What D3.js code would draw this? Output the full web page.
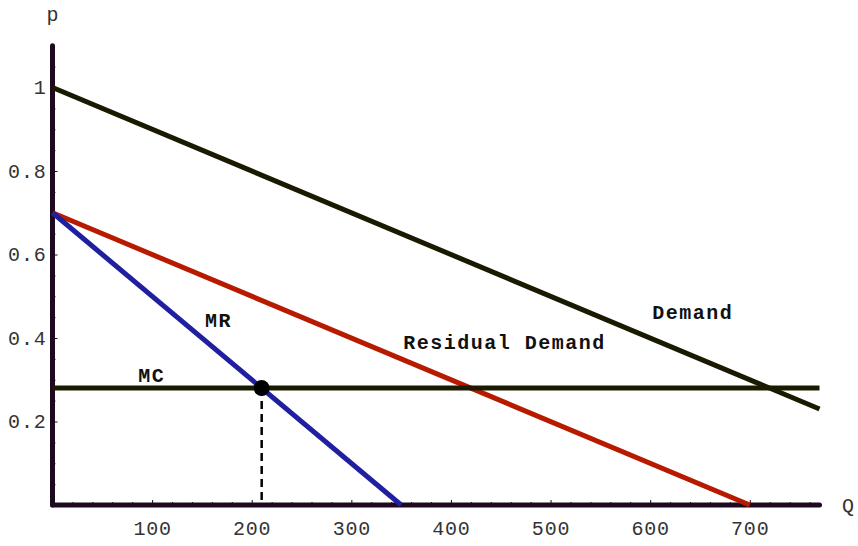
<!DOCTYPE html>
<html><head><meta charset="utf-8">
<script src="https://cdn.jsdelivr.net/npm/d3@7"></script>
<style>html,body{margin:0;padding:0;background:#fff;} svg{display:block;}</style>
</head><body>
<script>
// ---- data ----
const xTicks = [100, 200, 300, 400, 500, 600, 700];
const xTickLabels = ["100", "200", "300", "400", "500", "600", "700"];
const yTicks = [0.2, 0.4, 0.6, 0.8, 1];
const yTickLabels = ["0.2", "0.4", "0.6", "0.8", "1"];
const demandQ = [0, 770];
const demandP = [1.0, 0.23];
const residualQ = [0, 700];
const residualP = [0.7, 0.0];
const mrQ = [0, 350];
const mrP = [0.7, 0.0];
const mcQ = [0, 770];
const mcP = [0.28, 0.28];
const optimumQ = 210;
const optimumP = 0.28;
const labelNames = ["Demand", "Residual Demand", "MR", "MC"];
const labelQ = [602, 352, 153, 86];
const labelP = [0.445, 0.373, 0.427, 0.295];

// ---- layout ----
const W = 858, H = 546;
const svg = d3.select("body").append("svg").attr("width", W).attr("height", H);
const x = d3.scaleLinear().domain([0, 770]).range([52.5, 819.5]);
const y = d3.scaleLinear().domain([0, 1.1]).range([505, 45.75]);
const axisColor = "#1e0a1e";
const font = "'Liberation Mono', 'Courier New', monospace";
const tickFill = "#333";

// minor ticks
const xMinor = d3.range(20, 770, 20).filter(v => v % 100 !== 0);
const yMinor = d3.range(0.05, 1.1, 0.05).filter(v => Math.abs(v * 5 - Math.round(v * 5)) > 1e-6);

const gx = svg.append("g").attr("transform", `translate(0,${y(0)})`);
gx.call(d3.axisBottom(x).tickValues(xMinor).tickSize(-3).tickFormat(""));
gx.call(g => g.select(".domain").remove());
const gx2 = svg.append("g").attr("transform", `translate(0,${y(0)})`);
gx2.call(d3.axisBottom(x).tickValues(xTicks).tickSize(-5).tickPadding(16)
  .tickFormat((d, i) => xTickLabels[i]));
gx2.select(".domain").remove();
[gx, gx2].forEach(g => g.selectAll("line").attr("stroke", axisColor).attr("stroke-width", 1));
gx2.selectAll("text").attr("font-family", font).attr("font-size", 20).attr("fill", tickFill)
  .attr("letter-spacing", 0.8);

const gy = svg.append("g").attr("transform", `translate(${x(0)},0)`);
gy.call(d3.axisLeft(y).tickValues(yMinor).tickSize(-3).tickFormat(""));
gy.select(".domain").remove();
const gy2 = svg.append("g").attr("transform", `translate(${x(0)},0)`);
gy2.call(d3.axisLeft(y).tickValues(yTicks).tickSize(-5).tickPadding(6)
  .tickFormat((d, i) => yTickLabels[i]));
gy2.select(".domain").remove();
[gy, gy2].forEach(g => g.selectAll("line").attr("stroke", axisColor).attr("stroke-width", 1));
gy2.selectAll("text").attr("font-family", font).attr("font-size", 20).attr("fill", tickFill)
  .attr("letter-spacing", 0.8);

// axis lines
svg.append("line").attr("x1", x(0)).attr("x2", x(770)).attr("y1", y(0)).attr("y2", y(0))
  .attr("stroke", axisColor).attr("stroke-width", 5).attr("stroke-linecap", "round");
svg.append("line").attr("x1", x(0)).attr("x2", x(0)).attr("y1", y(0)).attr("y2", y(1.1))
  .attr("stroke", axisColor).attr("stroke-width", 5).attr("stroke-linecap", "round");

// axis titles
svg.append("text").attr("x", x(0)).attr("y", 21).attr("text-anchor", "middle")
  .attr("font-family", font).attr("font-size", 20).attr("fill", tickFill).text("p");
svg.append("text").attr("x", 848).attr("y", y(0) + 7).attr("text-anchor", "middle")
  .attr("font-family", font).attr("font-size", 20).attr("fill", tickFill).text("Q");

// curves
const line = d3.line().x(d => x(d[0])).y(d => y(d[1]));
function drawSeries(qs, ps, color) {
  svg.append("path").datum(qs.map((q, i) => [q, ps[i]])).attr("d", line)
    .attr("fill", "none").attr("stroke", color).attr("stroke-width", 5);
}
drawSeries(demandQ, demandP, "#1a1a00");
drawSeries(residualQ, residualP, "#b81a00");
drawSeries(mrQ, mrP, "#1f1fa0");
drawSeries(mcQ, mcP, "#1a1a00");

// dashed drop line + dot
svg.append("line").attr("x1", x(optimumQ)).attr("x2", x(optimumQ))
  .attr("y1", y(optimumP)).attr("y2", y(0)).attr("stroke", "#000")
  .attr("stroke-width", 2.5).attr("stroke-dasharray", "8,5");
svg.append("circle").attr("cx", x(optimumQ)).attr("cy", y(optimumP)).attr("r", 8).attr("fill", "#000");

// labels
labelNames.forEach((t, i) => {
  svg.append("text").attr("x", x(labelQ[i])).attr("y", y(labelP[i]))
    .attr("font-family", font).attr("font-size", 20).attr("font-weight", "bold")
    .attr("letter-spacing", 1.5).attr("fill", "#111").text(t);
});
</script>
</body></html>
